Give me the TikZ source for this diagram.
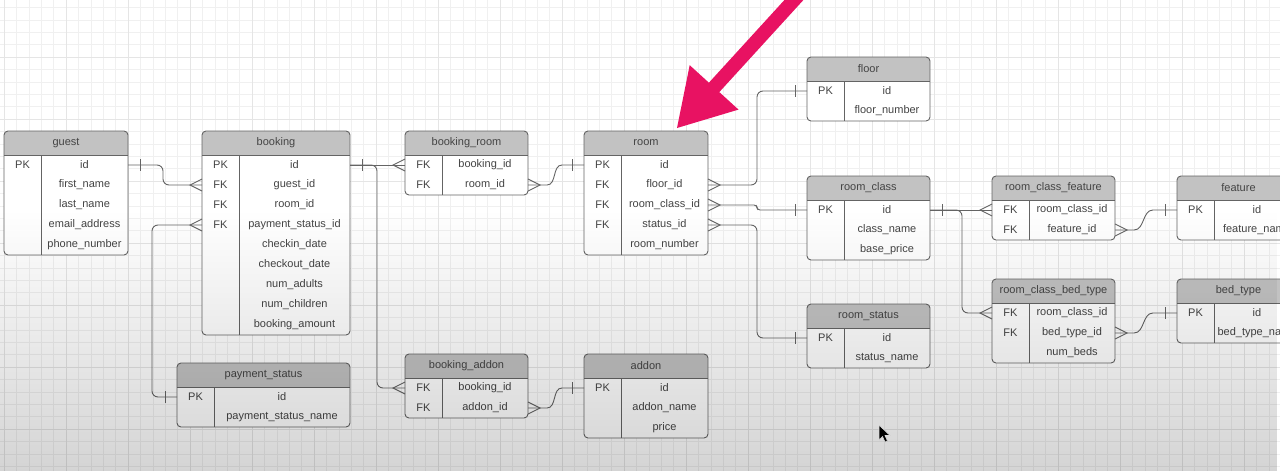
\documentclass[tikz,border=0pt]{standalone}
\usepackage{fontspec}
\setmainfont{Liberation Sans}
\usetikzlibrary{fadings}

\definecolor{headgray}{RGB}{194,194,194}
\definecolor{inkgray}{RGB}{68,68,68}
\definecolor{linegray}{RGB}{100,100,100}
\definecolor{pointerpink}{RGB}{232,18,98}
\tikzfading[name=darkdown, top color=transparent!100, bottom color=transparent!0]

% #1 name, #2 title, #3 left, #4 top, #5 width, #6 rows, #7 key/field list
\newcommand{\ertable}[7]{%
  \begin{scope}
    \clip[rounded corners=4] (#3,#4) rectangle ++(#5,{24+20*#6});
    \fill[white] (#3,#4) rectangle ++(#5,{24+20*#6});
    \fill[headgray] (#3,#4) rectangle ++(#5,24);
  \end{scope}
  \draw[tblline] (#3,{#4+24}) -- ++(#5,0);
  \draw[tblline] ({#3+37},{#4+24}) -- ++(0,{20*#6});
  \draw[tblframe] (#3,#4) rectangle ++(#5,{24+20*#6});
  \node[headtext] (#1) at ({#3+#5/2},{#4+12}) {#2};
  \foreach \k/\f [count=\i] in {#7} {
    \node[rowbox, minimum width=#5] (#1-\i) at ({#3+#5/2},{#4+14+20*\i}) {};
    \node[keytext] at ({#3+18.5},{#4+14+20*\i}) {\k};
    \node[fieldtext] at ({#3+37+(#5-37)/2},{#4+14+20*\i}) {\f};
  }
}

\begin{document}
\begin{tikzpicture}[x=1pt, y=-1pt,
headtext/.style={inner sep=0, text=inkgray, font=\fontsize{11}{13}\selectfont},
keytext/.style={inner sep=0, text=inkgray, font=\fontsize{11}{13}\selectfont},
fieldtext/.style={inner sep=0, text=inkgray, font=\fontsize{11}{13}\selectfont},
rowbox/.style={rectangle, minimum height=20, inner sep=0, outer sep=0},
tblframe/.style={draw=linegray, line width=0.9, rounded corners=4},
tblline/.style={draw=linegray, line width=0.9},
conn/.style={draw=linegray, line width=0.9},
gridminor/.style={draw=black!6, line width=0.6},
gridmajor/.style={draw=black!10, line width=0.8},
manyR/.pic={\draw[conn] (0,-6) -- (12,0) -- (0,6);},
manyL/.pic={\draw[conn] (0,-6) -- (-12,0) -- (0,6);},
oneR/.pic={\draw[conn] (12,-6) -- (12,6);},
oneL/.pic={\draw[conn] (-12,-6) -- (-12,6);},
]
\useasboundingbox (0,0) rectangle (1280,471);
\clip (0,0) rectangle (1280,471);

%Background
\fill[white] (0,0) rectangle (1280,471);
\foreach \gx in {-8.4,4,...,1285} \draw[gridminor] (\gx,0) -- (\gx,471);
\foreach \gy in {-5,7.4,...,475} \draw[gridminor] (0,\gy) -- (1280,\gy);
\foreach \gx in {4,66,...,1285} \draw[gridmajor] (\gx,0) -- (\gx,471);
\foreach \gy in {-5,57,...,475} \draw[gridmajor] (0,\gy) -- (1280,\gy);

%Tables
\ertable{guest}{guest}{4}{131}{124}{5}{PK/id, /first\_name, /last\_name, /email\_address, /phone\_number}
\ertable{booking}{booking}{202}{131}{148}{9}{PK/id, FK/guest\_id, FK/room\_id, FK/payment\_status\_id, /checkin\_date, /checkout\_date, /num\_adults, /num\_children, /booking\_amount}
\ertable{bookingRoom}{booking\_room}{405}{131}{123}{2}{FK/booking\_id, FK/room\_id}
\ertable{room}{room}{584}{131}{124}{5}{PK/id, FK/floor\_id, FK/room\_class\_id, FK/status\_id, /room\_number}
\ertable{floor}{floor}{807}{57}{123}{2}{PK/id, /floor\_number}
\ertable{roomClass}{room\_class}{807}{176}{123}{3}{PK/id, /class\_name, /base\_price}
\ertable{roomStatus}{room\_status}{807}{304}{123}{2}{PK/id, /status\_name}
\ertable{roomClassFeature}{room\_class\_feature}{992}{176}{123}{2}{FK/room\_class\_id, FK/feature\_id}
\ertable{feature}{feature}{1177}{176}{123}{2}{PK/id, /feature\_name}
\ertable{roomClassBedType}{room\_class\_bed\_type}{992}{279}{123}{3}{FK/room\_class\_id, FK/bed\_type\_id, /num\_beds}
\ertable{bedType}{bed\_type}{1177}{279}{123}{2}{PK/id, /bed\_type\_name}
\ertable{paymentStatus}{payment\_status}{177}{363}{173}{2}{PK/id, /payment\_status\_name}
\ertable{bookingAddon}{booking\_addon}{405}{354}{123}{2}{FK/booking\_id, FK/addon\_id}
\ertable{addon}{addon}{584}{354}{124}{3}{PK/id, /addon\_name, /price}

%Lines
\draw[conn, rounded corners=6] (guest-1.east) -- ++(35,0) |- (booking-2.west);
\draw[conn] (booking-1.east) -- (bookingRoom-1.west);
\draw[conn, rounded corners=6] (booking-1.east) -- ++(27,0) |- (bookingAddon-1.west);
\draw[conn, rounded corners=6] (booking-4.west) -- ++(-50,0) |- (paymentStatus-1.west);
\draw[conn] (bookingRoom-2.east) -- ++(19,0) to[out=0,in=180] ([xshift=-22pt]room-1.west) -- (room-1.west);
\draw[conn] (bookingAddon-2.east) -- ++(19,0) to[out=0,in=180] ([xshift=-22pt]addon-1.west) -- (addon-1.west);
\draw[conn, rounded corners=6] (room-2.east) -- ++(49,0) |- (floor-1.west);
\draw[conn, rounded corners=3] (room-3.east) -- ++(49,0) |- (roomClass-1.west);
\draw[conn, rounded corners=6] (room-4.east) -- ++(49,0) |- (roomStatus-1.west);
\draw[conn] (roomClass-1.east) -- (roomClassFeature-1.west);
\draw[conn, rounded corners=6] (roomClass-1.east) -- ++(32,0) |- (roomClassBedType-1.west);
\draw[conn] (roomClassFeature-2.east) -- ++(19,0) to[out=0,in=180] ([xshift=-24pt]feature-1.west) -- (feature-1.west);
\draw[conn] (roomClassBedType-2.east) -- ++(19,0) to[out=0,in=180] ([xshift=-24pt]bedType-1.west) -- (bedType-1.west);

%Ends
\path (guest-1.east) pic {oneR};
\path (booking-2.west) pic {manyL};
\path (booking-1.east) pic {oneR};
\path (bookingRoom-1.west) pic {manyL};
\path (bookingAddon-1.west) pic {manyL};
\path (booking-4.west) pic {manyL};
\path (paymentStatus-1.west) pic {oneL};
\path (bookingRoom-2.east) pic {manyR};
\path (room-1.west) pic {oneL};
\path (bookingAddon-2.east) pic {manyR};
\path (addon-1.west) pic {oneL};
\path (room-2.east) pic {manyR};
\path (room-3.east) pic {manyR};
\path (room-4.east) pic {manyR};
\path (floor-1.west) pic {oneL};
\path (roomClass-1.west) pic {oneL};
\path (roomStatus-1.west) pic {oneL};
\path (roomClass-1.east) pic {oneR};
\path (roomClassFeature-1.west) pic {manyL};
\path (roomClassBedType-1.west) pic {manyL};
\path (roomClassFeature-2.east) pic {manyR};
\path (roomClassBedType-2.east) pic {manyR};
\path (feature-1.west) pic {oneL};
\path (bedType-1.west) pic {oneL};

%Pointer
\fill[pointerpink] (677,128) -- (738.5,109.6) -- (719.3,92.1) -- (820.4,-18.6)
  -- (810.0,-28.0) -- (708.9,82.7) -- (689.7,65.2) -- cycle;

%Cursor
\filldraw[fill=black, draw=white, line width=0.6] (879,425) -- (879,440) -- (882.5,436.5)
  -- (885,442) -- (887.5,441) -- (885,435.5) -- (890,435.5) -- cycle;

%Shade
\fill[black, path fading=darkdown, fill opacity=0.17] (0,210) rectangle (1280,471);
\end{tikzpicture}
\end{document}
